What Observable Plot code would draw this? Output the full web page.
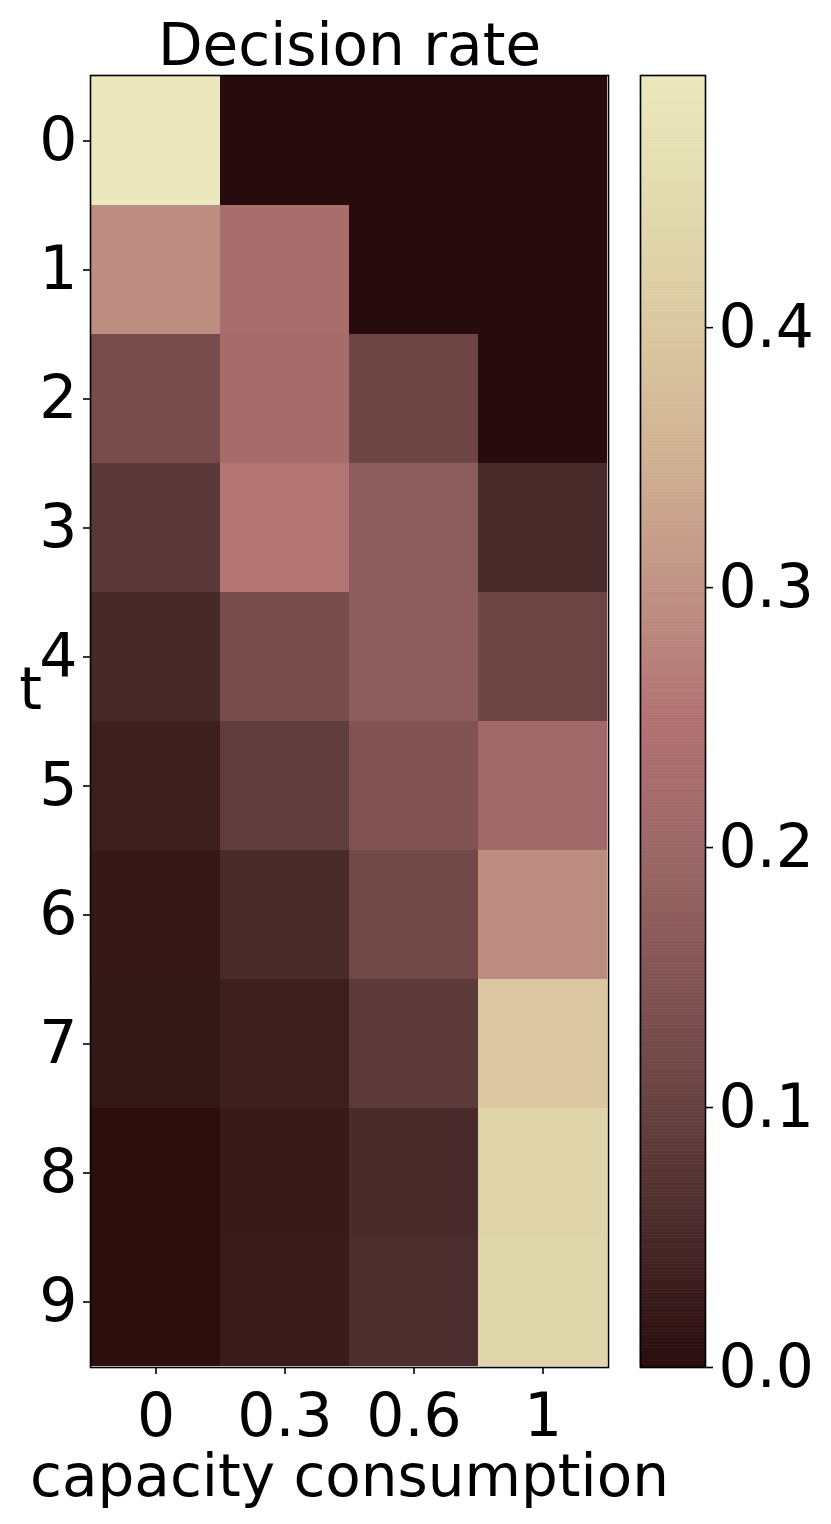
<!DOCTYPE html>
<html>
<head>
<meta charset="utf-8">
<script src="https://cdn.jsdelivr.net/npm/d3@7"></script>
<script src="https://cdn.jsdelivr.net/npm/@observablehq/plot@0.6"></script>
<style>
  html, body { margin: 0; padding: 0; background: #fff; }
  #wrap { position: relative; width: 831px; height: 1524px; }
  #wrap > svg { position: absolute; left: 0; top: 0; }
</style>
</head>
<body>
<div id="wrap"></div>
<script>
// Categories
const capacities = ["0", "0.3", "0.6", "1"];
const times = [0, 1, 2, 3, 4, 5, 6, 7, 8, 9];
// Decision rate per time step t (rows), one value per capacity column
const rate_t0 = [0.497, 0.000, 0.000, 0.000];
const rate_t1 = [0.292, 0.225, 0.000, 0.000];
const rate_t2 = [0.130, 0.222, 0.110, 0.000];
const rate_t3 = [0.082, 0.255, 0.170, 0.055];
const rate_t4 = [0.052, 0.130, 0.170, 0.110];
const rate_t5 = [0.035, 0.090, 0.145, 0.210];
const rate_t6 = [0.022, 0.055, 0.120, 0.292];
const rate_t7 = [0.020, 0.035, 0.085, 0.400];
const rate_t8 = [0.006, 0.026, 0.055, 0.430];
const rate_t9 = [0.006, 0.028, 0.058, 0.436];
const rates = [rate_t0, rate_t1, rate_t2, rate_t3, rate_t4, rate_t5, rate_t6, rate_t7, rate_t8, rate_t9];
// Colorbar ticks
const cbTicks = [0, 0.1, 0.2, 0.3, 0.4];
// Colormap stops
const cmapStops = [0, 0.05, 0.1, 0.15, 0.2, 0.25, 0.3, 0.35, 0.4, 0.45, 0.497];
const cmapColors = ["#280b0c", "#472828", "#674141", "#835454", "#9d6767", "#b27272",
                    "#c09284", "#d0b192", "#dbc8a2", "#e2dbaf", "#ebe8bd"];

const cells = [];
times.forEach((t, i) => capacities.forEach((c, j) => cells.push({t, c, v: rates[i][j]})));
const vmax = d3.max(cells, d => d.v);

const W = 831, H = 1524, FS = 58, TFS = 60;
const font = "DejaVu Sans, sans-serif";
const colorOpts = {type: "linear", domain: cmapStops, range: cmapColors, interpolate: "rgb"};

const heat = Plot.plot({
  width: W, height: H,
  marginLeft: 90, marginRight: W - 608, marginTop: 75, marginBottom: H - 1367,
  style: {fontFamily: font, fontSize: TFS + "px", color: "#000", background: "transparent"},
  x: {type: "band", domain: capacities, padding: 0},
  y: {type: "band", domain: times, padding: 0},
  color: colorOpts,
  marks: [
    Plot.cell(cells, {x: "c", y: "t", fill: "v", inset: 0, shapeRendering: "crispEdges"}),
    Plot.frame({stroke: "#000", strokeWidth: 1.6}),
    Plot.axisX({anchor: "bottom", tickSize: 7, tickPadding: 19, fontSize: TFS, label: null, strokeWidth: 1.6}),
    Plot.axisY({anchor: "left", tickSize: 7, tickPadding: 6, fontSize: TFS, label: null, strokeWidth: 1.6}),
    Plot.text(["Decision rate"], {frameAnchor: "top", dy: -11, lineAnchor: "bottom", fontSize: FS}),
    Plot.text(["capacity consumption"], {frameAnchor: "bottom", dy: 128, lineAnchor: "bottom", fontSize: FS}),
    Plot.text(["t"], {frameAnchor: "left", dx: -60, dy: -13, lineAnchor: "bottom", textAnchor: "middle", fontSize: FS})
  ]
});

const nSteps = 400;
const steps = d3.range(nSteps).map(i => ({
  y1: vmax * i / nSteps,
  y2: vmax * (i + 1) / nSteps,
  v: vmax * (i + 0.5) / nSteps
}));

const cbar = Plot.plot({
  width: W, height: H,
  marginLeft: 640, marginRight: W - 705, marginTop: 75, marginBottom: H - 1367,
  style: {fontFamily: font, fontSize: TFS + "px", color: "#000", background: "transparent"},
  x: {domain: [0, 1], axis: null},
  y: {domain: [0, vmax]},
  color: colorOpts,
  marks: [
    Plot.rect(steps, {x1: 0, x2: 1, y1: "y1", y2: "y2", fill: "v", stroke: "v", strokeWidth: 0.6}),
    Plot.frame({stroke: "#000", strokeWidth: 1.6}),
    Plot.axisY({anchor: "right", ticks: cbTicks, tickFormat: d3.format(".1f"), tickSize: 7, tickPadding: 6,
                fontSize: TFS, label: null, strokeWidth: 1.6})
  ]
});

document.getElementById("wrap").append(heat, cbar);
</script>
</body>
</html>
